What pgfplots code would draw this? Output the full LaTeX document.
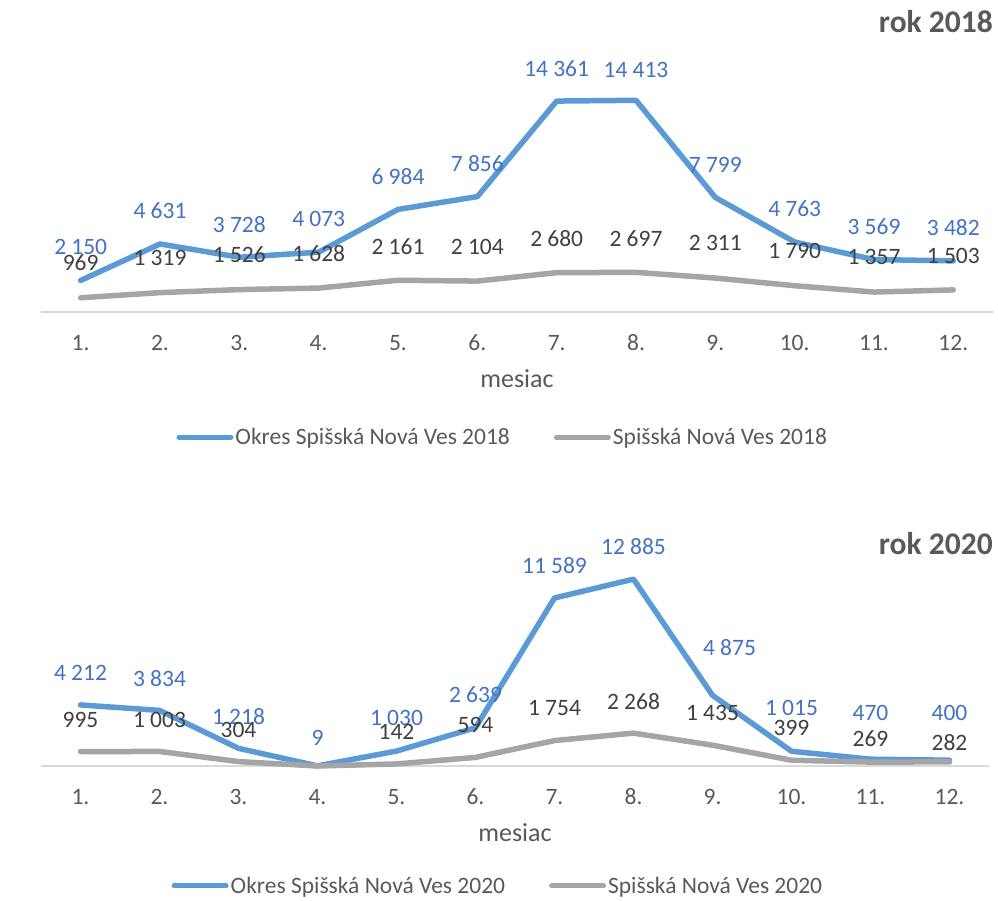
\documentclass[border=0pt]{standalone}
\usepackage{fontspec}
\setmainfont{Carlito}
\usepackage{pgfplots}
\pgfplotsset{compat=1.18}
\definecolor{cblue}{HTML}{5B9BD5}
\definecolor{cgray}{HTML}{A5A5A5}
\definecolor{lblue}{HTML}{4472C4}
\definecolor{lgray}{HTML}{404040}
\definecolor{ctick}{HTML}{595959}
\definecolor{caxis}{HTML}{D9D9D9}

\pgfplotstableread{
x y dy dx sh
1 2150 33 0 1
2 4631 33 0 1
3 3728 33 0 1
4 4073 33 0 1
5 6984 33 0 1
6 7856 33 0 1
7 14361 32 0 1
8 14413 30 0 1
9 7799 33 0 1
10 4763 33 0 1
11 3569 33 0 1
12 3482 33 0 1
}\okresA
\pgfplotstableread{
x y dy dx sh
1 969 35 0 1
2 1319 35 0 1
3 1526 35 0 1
4 1628 35 0 1
5 2161 34 0 1
6 2104 34 0 1
7 2680 34 0 1
8 2697 34 0 1
9 2311 35 0 1
10 1790 35 0 1
11 1357 35 0 1
12 1503 34 0 1
}\mestoA
\pgfplotstableread{
x y dy dx sh
1 4212 31.6 0 1
2 3834 32 0 1
3 1218 31.6 0 1
4 9 27.6 0 1
5 1030 32.7 0 1
6 2639 32.7 0 1
7 11589 32.8 0 1
8 12885 32.3 0 1
9 4875 47.6 17 1
10 1015 43.6 0 1
11 470 45.9 0 1
12 400 47.5 0 1
}\okresB
\pgfplotstableread{
x y dy dx sh
1 995 31.6 0 1
2 1003 31.4 0 1
3 304 31.6 0 1
4 0 30 0 0
5 142 32.3 0 1
6 594 32.4 0 1
7 1754 32.2 0 1
8 2268 32 0 1
9 1435 32.5 0 1
10 399 32.5 0 1
11 269 23.8 0 1
12 282 19.2 0 1
}\mestoB

\pgfplotsset{
  chartstyle/.style={
    scale only axis, clip=false, anchor=south west,
    xmin=0.5, xmax=12.5, ymin=0,
    axis x line*=bottom, axis y line=none,
    x axis line style={draw=caxis, line width=1.5pt, -},
    xtick={1,...,12},
    xticklabels={1.,2.,3.,4.,5.,6.,7.,8.,9.,10.,11.,12.},
    major tick length=0pt, ytick=\empty,
    xticklabel style={anchor=center, yshift=-31pt, text=ctick, font=\fontsize{23.5}{28}\selectfont},
    xlabel={mesiac},
    xlabel style={at={(axis description cs:0.5,0)}, anchor=center, yshift=-67pt, text=ctick, font=\fontsize{26}{31}\selectfont},
    ylabel={návštevnosť},
    ylabel style={anchor=center, text=ctick, font=\fontsize{26}{31}\selectfont},
    title style={anchor=east, inner sep=0pt, text=ctick, font=\bfseries\fontsize{31.5}{37}\selectfont},
    legend columns=2,
    legend style={draw=none, fill=none, anchor=center, text=ctick, font=\fontsize{23.5}{28}\selectfont,
      /tikz/every even column/.append style={column sep=42pt}},
    legend image code/.code={\draw[#1, line width=5pt, line cap=round] (0pt,0pt) -- (52pt,0pt);},
    /pgf/number format/.cd, fixed, precision=0, 1000 sep={\hspace{0.22em}}, assume math mode=true,
  },
  lab/.style={
    nodes near coords={\ifdim\lsh pt>0.5pt\relax\pgfmathprintnumber{\pgfplotspointmeta}\fi},
    visualization depends on={\thisrow{dy} \as \ldy},
    visualization depends on={\thisrow{dx} \as \ldx},
    visualization depends on={\thisrow{sh} \as \lsh},
    every node near coord/.append style={anchor=center, yshift=\ldy pt, xshift=\ldx pt,
      text=#1, font=\fontsize{23.5}{28}\selectfont},
  },
  ser/.style={color=#1, line width=5.5pt, line join=round, line cap=round, mark=none},
}

\begin{document}
\begin{tikzpicture}[x=1pt,y=1pt]
\path[use as bounding box] (0,0) rectangle (998,900);

\begin{axis}[chartstyle,
  at={(41pt,588pt)}, width=952pt, height=235pt, ymax=16000,
  ylabel style={at={(axis description cs:-0.021,0.63)}},
  title={rok 2018},
  title style={at={(axis description cs:1,1.2085)}},
  legend style={at={(axis description cs:0.485,-0.532)}},
]
\addplot[ser=cblue, lab=lblue] table[x=x,y=y] {\okresA};
\addlegendentry{Okres Spišská Nová Ves 2018}
\addplot[ser=cgray, lab=lgray] table[x=x,y=y] {\mestoA};
\addlegendentry{Spišská Nová Ves 2018}
\end{axis}

\begin{axis}[chartstyle,
  at={(41pt,134pt)}, width=948pt, height=203pt, ymax=14000,
  ylabel style={at={(axis description cs:-0.022,0.537)}},
  title={rok 2020},
  title style={at={(axis description cs:1.0042,1.064)}},
  legend style={at={(axis description cs:0.482,-0.591)}},
]
\addplot[ser=cblue, lab=lblue] table[x=x,y=y] {\okresB};
\addlegendentry{Okres Spišská Nová Ves 2020}
\addplot[ser=cgray, lab=lgray] table[x=x,y=y] {\mestoB};
\addlegendentry{Spišská Nová Ves 2020}
\end{axis}
\end{tikzpicture}
\end{document}
